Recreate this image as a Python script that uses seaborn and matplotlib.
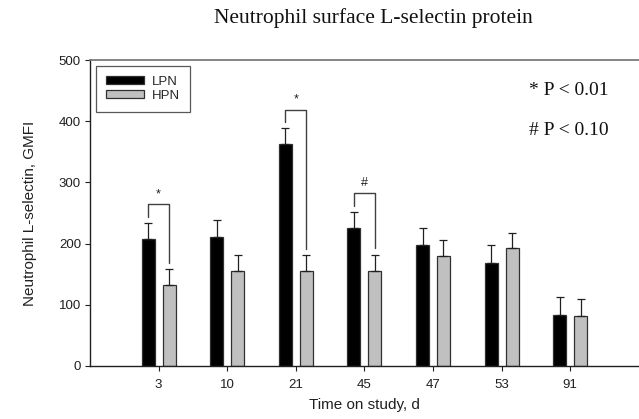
import matplotlib
matplotlib.use("Agg")
import matplotlib.pyplot as plt
import seaborn as sns
import pandas as pd
import numpy as np
from matplotlib.patches import Patch

# ---- data ----
days = ["3", "10", "21", "45", "47", "53", "91"]
lpn_mean = [207, 211, 362, 225, 197, 169, 84]
lpn_err = [27, 27, 27, 27, 28, 28, 28]
hpn_mean = [133, 155, 155, 156, 180, 192, 82]
hpn_err = [26, 26, 26, 26, 26, 26, 27]
sig = ["*", "", "*", "#", "", "", ""]
groups = ["LPN", "HPN"]

df = pd.DataFrame({
    "day": days * 2,
    "group": ["LPN"] * len(days) + ["HPN"] * len(days),
    "value": lpn_mean + hpn_mean,
})

sns.set_style("ticks")
plt.rcParams["font.family"] = ["Liberation Sans", "DejaVu Sans"]

fig = plt.figure(figsize=(6.39, 4.19), dpi=100)
ax = fig.add_axes([0.1408, 0.1265, 0.859, 0.7303])

palette = {"LPN": "black", "HPN": "#c0c0c0"}
sns.barplot(data=df, x="day", y="value", hue="group", order=days,
            hue_order=groups, palette=palette, errorbar=None,
            width=0.61, gap=0.377, edgecolor="#303030", linewidth=0.9,
            legend=False, ax=ax)

centers = {}
for cont, g, means, errs in zip(ax.containers, groups,
                                [lpn_mean, hpn_mean], [lpn_err, hpn_err]):
    xc = [b.get_x() + b.get_width() / 2 for b in cont]
    centers[g] = xc
    ax.errorbar(xc, means, yerr=[np.zeros(len(errs)), errs], fmt="none",
                ecolor="#202020", elinewidth=0.9, capsize=3.2, capthick=0.9)

for i, s in enumerate(sig):
    if not s:
        continue
    xl = centers["LPN"][i]
    xr = centers["HPN"][i]
    ltop = lpn_mean[i] + lpn_err[i]
    htop = hpn_mean[i] + hpn_err[i]
    top = ltop + 30
    ax.plot([xl, xl, xr, xr], [ltop + 10, top, top, htop + 10],
            color="#404040", lw=1.0)
    ax.text((xl + xr) / 2, top + 7, s, ha="center", va="bottom",
            fontsize=9, color="#202020")

ax.set_xlim(-1, 7)
ax.set_ylim(0, 500)
ax.set_yticks([0, 100, 200, 300, 400, 500])
ax.tick_params(axis="both", direction="out", length=3.5, width=0.8,
               labelsize=9.5, colors="#202020", pad=3)
ax.tick_params(axis="x", pad=6)

for side in ["left", "bottom"]:
    ax.spines[side].set_color("#202020")
    ax.spines[side].set_linewidth(1.0)
ax.spines["top"].set_visible(True)
ax.spines["top"].set_color("#707070")
ax.spines["top"].set_linewidth(1.2)
ax.spines["right"].set_visible(False)

ax.set_xlabel("Time on study, d", fontsize=11, color="#202020")
ax.set_ylabel("Neutrophil L-selectin, GMFI", fontsize=11, color="#202020")
ax.xaxis.set_label_coords(0.5, -0.105)
ax.yaxis.set_label_coords(-0.097, 0.5)

handles = [Patch(facecolor=palette[g], edgecolor="#303030", linewidth=0.9,
                 label=g) for g in groups]
leg = ax.legend(handles=handles, loc="upper left",
                bbox_to_anchor=(0.011, 0.980), borderaxespad=0,
                fontsize=9.5, frameon=True,
                fancybox=False, edgecolor="#303030", handlelength=2.9,
                handleheight=0.55, borderpad=0.75, labelspacing=0.15,
                handletextpad=0.6)
leg.get_frame().set_linewidth(0.9)

serif = ["Liberation Serif", "DejaVu Serif"]
fig.text(0.585, 0.957, "Neutrophil surface L-selectin protein",
         ha="center", va="center", fontsize=15.5, family=serif, color="#111111")
fig.text(0.828, 0.7835, "* P < 0.01", ha="left", va="center",
         fontsize=14, family=serif, color="#111111")
fig.text(0.828, 0.688, "# P < 0.10", ha="left", va="center",
         fontsize=14, family=serif, color="#111111")

fig.savefig("out.png", dpi=100)
